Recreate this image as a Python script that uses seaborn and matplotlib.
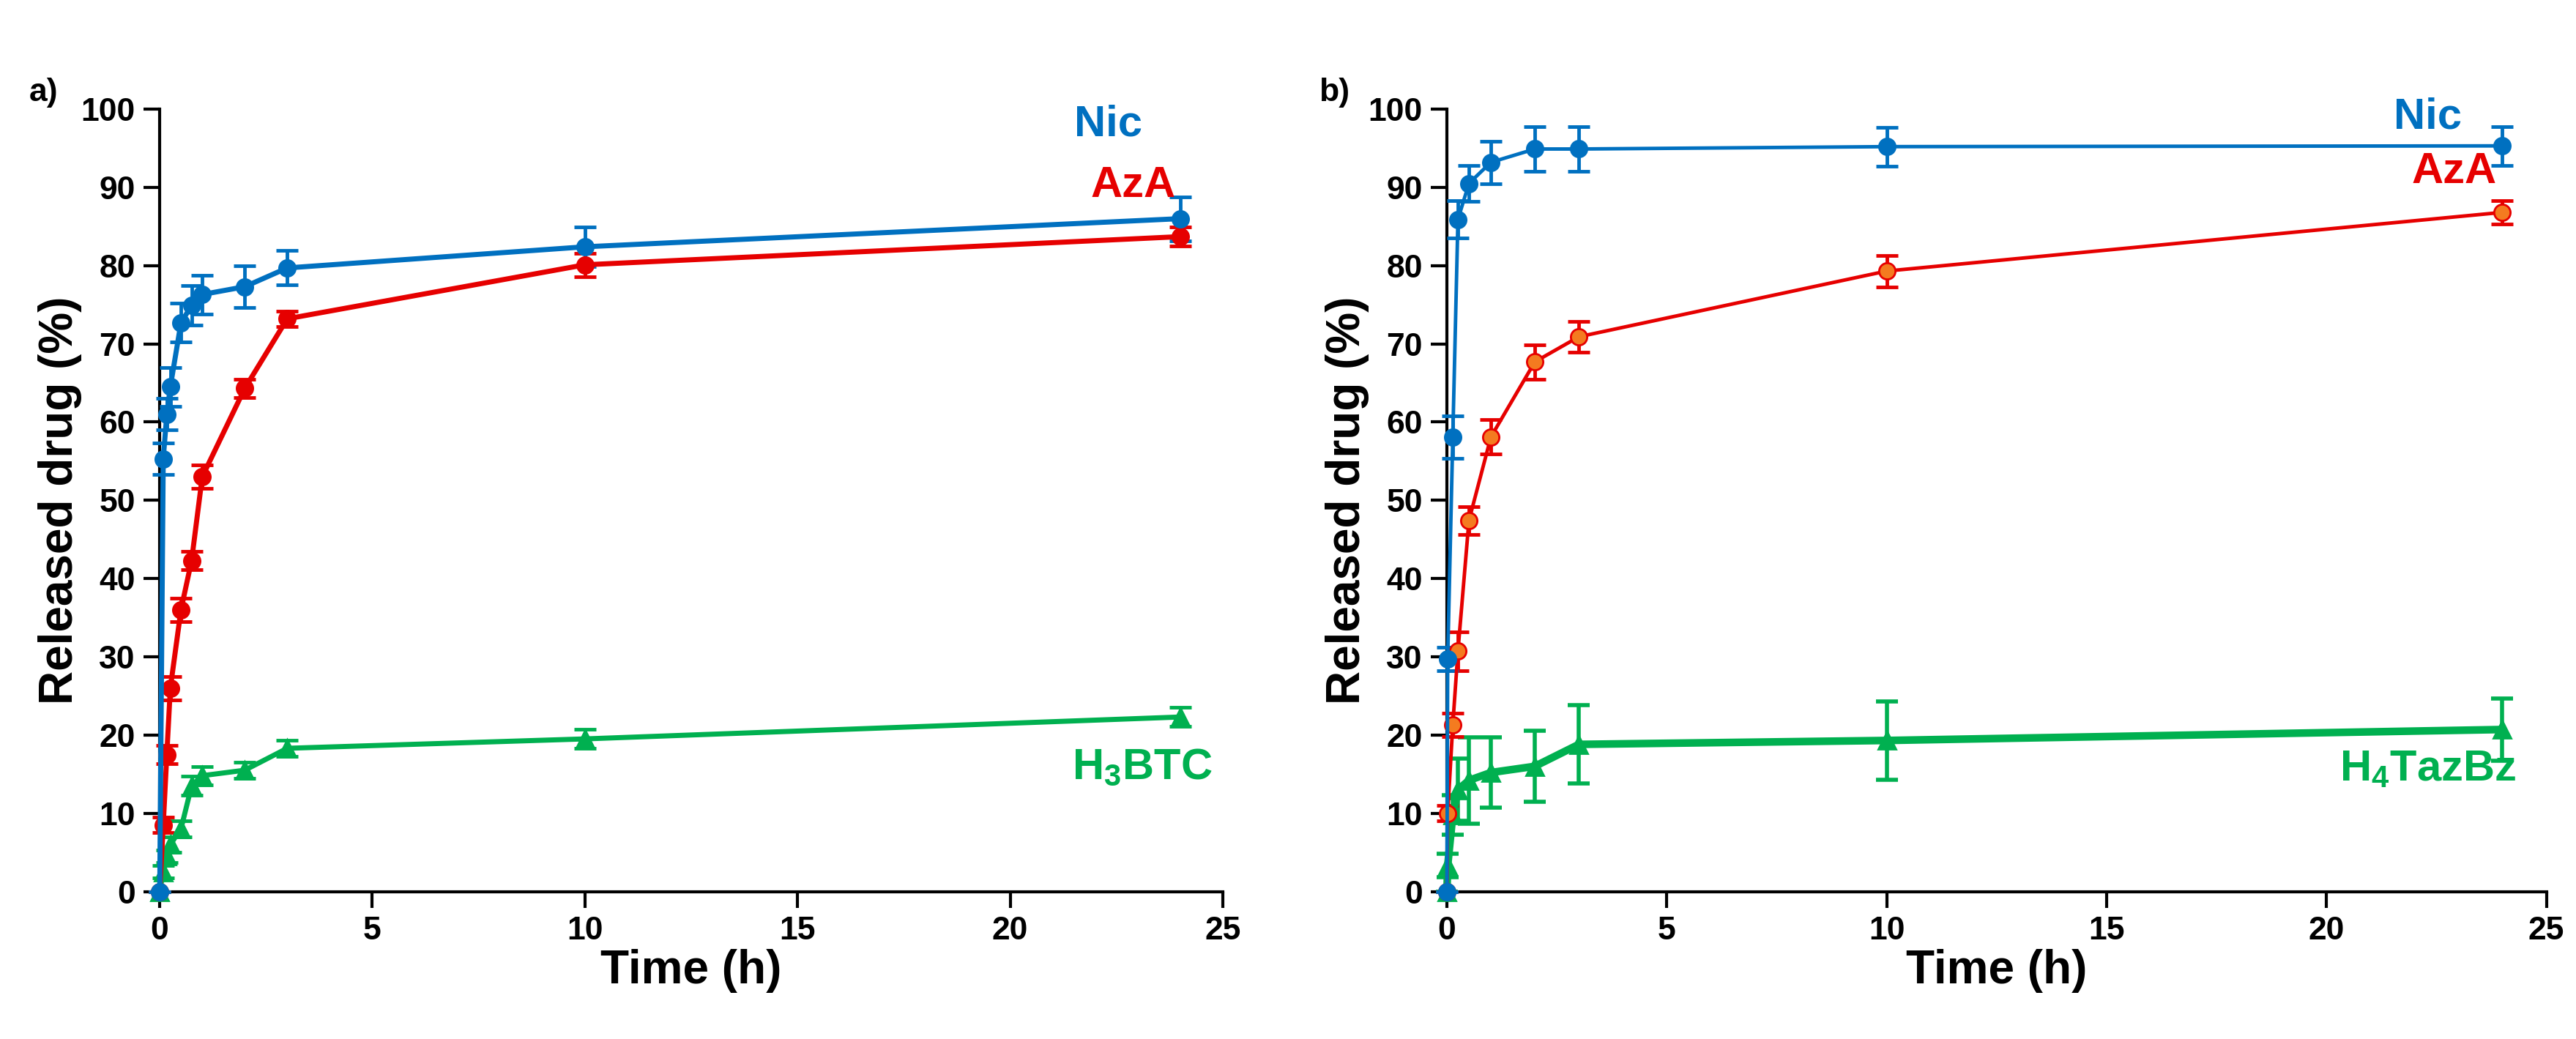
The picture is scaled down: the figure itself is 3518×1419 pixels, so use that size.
import matplotlib
matplotlib.use("Agg")
import matplotlib.pyplot as plt
import seaborn as sns

# ---- data ----
# panel a
time_a = [0, 0.083, 0.167, 0.25, 0.5, 0.75, 1, 2, 3, 10, 24]
nic_a = [0, 55.3, 61.0, 64.5, 72.7, 74.9, 76.3, 77.3, 79.7, 82.4, 86.0]
nic_a_err = [0, 2.0, 2.0, 2.5, 2.5, 2.5, 2.5, 2.7, 2.2, 2.5, 2.8]
aza_a = [0, 8.5, 17.5, 26.0, 36.0, 42.3, 53.0, 64.3, 73.2, 80.1, 83.7]
aza_a_err = [0, 1.0, 1.2, 1.5, 1.5, 1.2, 1.5, 1.2, 1.0, 1.5, 1.2]
btc_a = [0, 2.5, 4.5, 6.0, 8.0, 13.5, 14.8, 15.5, 18.3, 19.5, 22.3]
btc_a_err = [0, 0.8, 0.8, 1.0, 1.0, 1.2, 1.2, 1.0, 1.0, 1.2, 1.2]

# panel b
time_b = [0, 0.017, 0.133, 0.25, 0.5, 1, 2, 3, 10, 24]
nic_b = [0, 29.7, 58.1, 85.9, 90.5, 93.2, 94.9, 94.9, 95.2, 95.3]
nic_b_err = [0, 1.5, 2.7, 2.4, 2.3, 2.7, 2.9, 2.9, 2.5, 2.5]
aza_b = [0, 10.0, 21.3, 30.7, 47.4, 58.1, 67.7, 70.9, 79.3, 86.8]
aza_b_err = [0, 1.0, 1.5, 2.5, 1.8, 2.2, 2.2, 2.0, 2.0, 1.5]
taz_b = [0, 3.3, 9.8, 13.0, 14.2, 15.2, 16.0, 18.8, 19.3, 20.7]
taz_b_err = [0, 1.5, 2.5, 4.0, 5.5, 4.5, 4.5, 5.0, 5.0, 4.0]

BLUE = "#0070C0"
RED = "#E60000"
GREEN = "#00B050"
ORANGE = "#F47B20"

sns.set_theme(style="ticks")
plt.rcParams["font.family"] = ["Liberation Sans", "DejaVu Sans"]
plt.rcParams["font.weight"] = "bold"
plt.rcParams["text.color"] = "black"
plt.rcParams["axes.labelcolor"] = "black"
plt.rcParams["xtick.color"] = "black"
plt.rcParams["ytick.color"] = "black"
plt.rcParams["mathtext.fontset"] = "custom"
plt.rcParams["mathtext.rm"] = "Liberation Sans:bold"
plt.rcParams["mathtext.bf"] = "Liberation Sans:bold"
plt.rcParams["mathtext.default"] = "bf"

fig = plt.figure(figsize=(35.18, 14.19), dpi=100)
ax_a = fig.add_axes([0.062, 0.142, 0.4127, 0.753])
ax_b = fig.add_axes([0.5617, 0.142, 0.4268, 0.753])


def draw_series(ax, t, y, err, color, marker, lw, ms, face=None, elw=3.5):
    ax.errorbar(t, y, yerr=err, fmt="none", ecolor=color, elinewidth=elw,
                capsize=11, capthick=elw, clip_on=False, zorder=3)
    sns.lineplot(x=t, y=y, ax=ax, color=color, lw=lw, marker=marker,
                 markersize=ms, markerfacecolor=face or color,
                 markeredgecolor=color, markeredgewidth=2,
                 estimator=None, sort=False, clip_on=False, zorder=4)


draw_series(ax_a, time_a, btc_a, btc_a_err, GREEN, "^", 5, 17)
draw_series(ax_a, time_a, aza_a, aza_a_err, RED, "o", 5, 16)
draw_series(ax_a, time_a, nic_a, nic_a_err, BLUE, "o", 5, 16)

draw_series(ax_b, time_b, taz_b, taz_b_err, GREEN, "^", 7.5, 17, elw=4)
draw_series(ax_b, time_b, aza_b, aza_b_err, RED, "o", 3.5, 16, face=ORANGE)
draw_series(ax_b, time_b, nic_b, nic_b_err, BLUE, "o", 3.5, 16)

labels_a = [("Nic", 22.3, 98.0, BLUE), ("AzA", 22.9, 90.2, RED),
            (r"H$_{3}$BTC", 23.1, 15.8, GREEN)]
labels_b = [("Nic", 22.3, 99.0, BLUE), ("AzA", 22.9, 92.0, RED),
            (r"H$_{4}$TazBz", 22.3, 15.6, GREEN)]

for ax, labels in [(ax_a, labels_a), (ax_b, labels_b)]:
    ax.set_xlim(0, 25)
    ax.set_ylim(0, 100)
    ax.set_xticks(range(0, 26, 5))
    ax.set_yticks(range(0, 101, 10))
    sns.despine(ax=ax)
    for s in ["left", "bottom"]:
        ax.spines[s].set_linewidth(3)
        ax.spines[s].set_color("black")
    ax.tick_params(axis="both", length=16, width=3, labelsize=32,
                   direction="out", color="black", pad=8)
    for lab in ax.get_xticklabels() + ax.get_yticklabels():
        lab.set_fontweight("bold")
    ax.set_xlabel("Time (h)", fontsize=46, fontweight="bold", labelpad=3)
    ax.set_ylabel("Released drug (%)", fontsize=46, fontweight="bold", labelpad=-1)
    for txt, x, y, c in labels:
        ax.text(x, y, txt, color=c, fontsize=43, fontweight="bold",
                ha="center", va="center")

fig.text(0.017, 0.911, "a)", fontsize=32, fontweight="bold", ha="center", va="center")
fig.text(0.518, 0.911, "b)", fontsize=32, fontweight="bold", ha="center", va="center")

fig.savefig("out.png", dpi=100, facecolor="white")
